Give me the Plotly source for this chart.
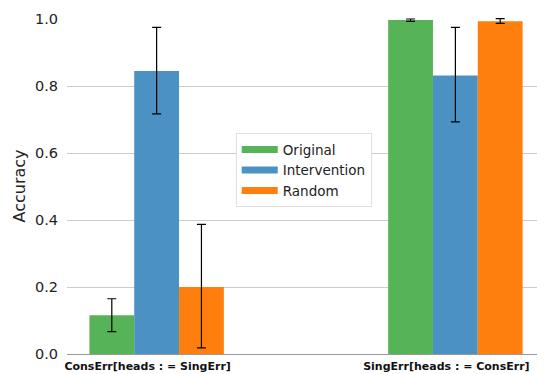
import plotly.graph_objects as go

categories = ["ConsErr[heads := SingErr]", "SingErr[heads := ConsErr]"]
tick_labels = ["<b>ConsErr[heads : = SingErr]</b>", "<b>SingErr[heads : = ConsErr]</b>"]
series_names = ["Original", "Intervention", "Random"]
original = [0.116, 0.997]
intervention = [0.845, 0.831]
random_vals = [0.200, 0.993]
original_hi = [0.165, 1.000]
original_lo = [0.067, 0.993]
intervention_hi = [0.975, 0.975]
intervention_lo = [0.717, 0.693]
random_hi = [0.387, 1.001]
random_lo = [0.018, 0.987]

colors = ["#57b357", "#4b91c3", "#ff7f0e"]

fig = go.Figure()
xs = [0, 1]
for name, vals, hi, lo, col in [
    (series_names[0], original, original_hi, original_lo, colors[0]),
    (series_names[1], intervention, intervention_hi, intervention_lo, colors[1]),
    (series_names[2], random_vals, random_hi, random_lo, colors[2]),
]:
    fig.add_trace(go.Bar(
        x=xs, y=vals, name=name, showlegend=False,
        marker=dict(color=col, line=dict(width=0)),
        error_y=dict(type="data", symmetric=False,
                     array=[h - v for h, v in zip(hi, vals)],
                     arrayminus=[v - l for v, l in zip(vals, lo)],
                     color="black", thickness=1.2, width=4.5),
    ))

# legend entries drawn as wide colour patches
for name, col in zip(series_names, colors):
    fig.add_trace(go.Scatter(x=[None], y=[None], mode="lines", name=name,
                             line=dict(color=col, width=7), showlegend=True))

fig.update_layout(
    width=537, height=366,
    margin=dict(l=59, r=0, t=10, b=20),
    paper_bgcolor="white", plot_bgcolor="white",
    barmode="group", bargap=0.55, bargroupgap=0,
    font=dict(family="DejaVu Sans", color="#222"),
    showlegend=True,
    legend=dict(x=0.353, y=0.657, xanchor="left", yanchor="top",
                bgcolor="white", bordercolor="#e0e0e0", borderwidth=1,
                font=dict(size=13.5, color="#222"), tracegroupgap=0,
                itemwidth=36),
    xaxis=dict(range=[-0.3, 1.3], tickvals=xs, ticktext=tick_labels,
               tickfont=dict(size=11, color="#111"),
               showline=True, linecolor="#999", linewidth=1,
               showgrid=False, ticks="", zeroline=False, automargin=False,
               ticklabelstandoff=2, ticklabelshift=-9),
    yaxis=dict(range=[0, 1.003], tickvals=[0, 0.2, 0.4, 0.6, 0.8, 1.0],
               ticktext=["0.0", "0.2", "0.4", "0.6", "0.8", "1.0"],
               tickfont=dict(size=14.5, color="#222"),
               showgrid=True, gridcolor="#cccccc", gridwidth=1,
               zeroline=False, showline=False, ticks="", ticklabelstandoff=8,
               title=dict(text="Accuracy", font=dict(size=16, color="#222"), standoff=5),
               automargin=False),
)

fig.write_html("out.html")
